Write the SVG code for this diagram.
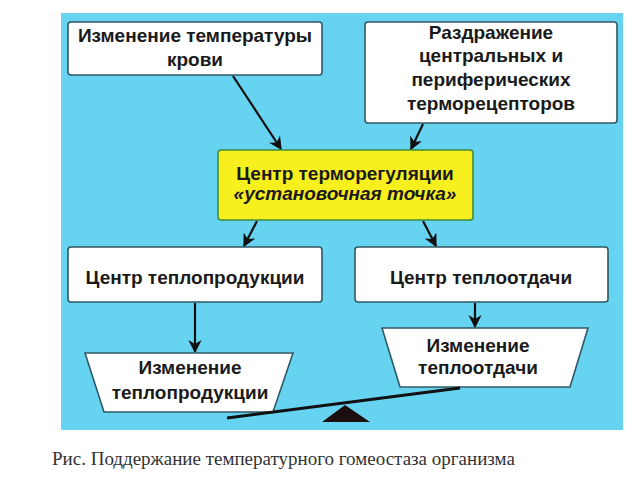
<svg xmlns="http://www.w3.org/2000/svg" width="637" height="482" viewBox="0 0 637 482">
<defs>
<style>
.box{fill:#ffffff;stroke:#2f5866;stroke-width:1.6}
.yel{fill:#f7ef1e;stroke:#3d8c3a;stroke-width:1.6}
.t{font-family:"Liberation Sans","Arial",sans-serif;font-size:19px;font-weight:bold;fill:#1a1a1a;text-anchor:middle}
.ti{font-style:italic}
.conn{stroke:#111;stroke-width:2.2;fill:none;marker-end:url(#ah)}
.cap{font-family:"Liberation Serif","Times New Roman",serif;font-size:19px;fill:#333}
</style>
<marker id="ah" viewBox="0 0 10 10" refX="9" refY="5" markerWidth="7" markerHeight="6" orient="auto" markerUnits="strokeWidth">
<path d="M0,0 L10,5 L0,10 L3,5 Z" fill="#111"/>
</marker>
</defs>
<rect x="0" y="0" width="637" height="482" fill="#ffffff"/>
<rect id="bg" x="61" y="13" width="562" height="417" fill="#66d3f1"/>

<g id="connectors">
<line class="conn" x1="233" y1="76" x2="281" y2="149"/>
<line class="conn" x1="423" y1="124" x2="411" y2="149"/>
<line class="conn" x1="257" y1="221" x2="244" y2="246"/>
<line class="conn" x1="423" y1="221" x2="436" y2="246"/>
<line class="conn" x1="195" y1="303" x2="195" y2="352"/>
<line class="conn" x1="475" y1="303" x2="475" y2="327"/>
</g>

<g id="n1">
<rect class="box" x="68" y="22" width="254" height="53" rx="3"/>
<text class="t" x="195" y="42">Изменение температуры</text>
<text class="t" x="195" y="66">крови</text>
</g>
<g id="n2">
<rect class="box" x="365" y="22" width="252" height="101" rx="3"/>
<text class="t" x="491" y="39">Раздражение</text>
<text class="t" x="491" y="62">центральных и</text>
<text class="t" x="491" y="86">периферических</text>
<text class="t" x="491" y="110">терморецепторов</text>
</g>
<g id="n3">
<rect class="yel" x="218" y="150" width="255" height="70" rx="3"/>
<text class="t" x="345" y="180">Центр терморегуляции</text>
<text class="t ti" x="345" y="200">«установочная точка»</text>
</g>
<g id="n4">
<rect class="box" x="68" y="247" width="254" height="55" rx="3"/>
<text class="t" x="195" y="284">Центр теплопродукции</text>
</g>
<g id="n5">
<rect class="box" x="355" y="247" width="253" height="55" rx="3"/>
<text class="t" x="481" y="284">Центр теплоотдачи</text>
</g>
<g id="n6">
<polygon class="box" points="85,353 293,353 273,412 104,412"/>
<text class="t" x="190" y="374">Изменение</text>
<text class="t" x="190" y="399">теплопродукции</text>
</g>
<g id="n7">
<polygon class="box" points="382,328 588,328 570,387 400,387"/>
<text class="t" x="478" y="352">Изменение</text>
<text class="t" x="478" y="374">теплоотдачи</text>
</g>
<g id="scale">
<line x1="227" y1="418" x2="460" y2="388" stroke="#111" stroke-width="3"/>
<polygon points="345,405 322,422 370,422" fill="#1c0f0f"/>
</g>
<text class="cap" x="52" y="465">Рис. Поддержание температурного гомеостаза организма</text>
</svg>
